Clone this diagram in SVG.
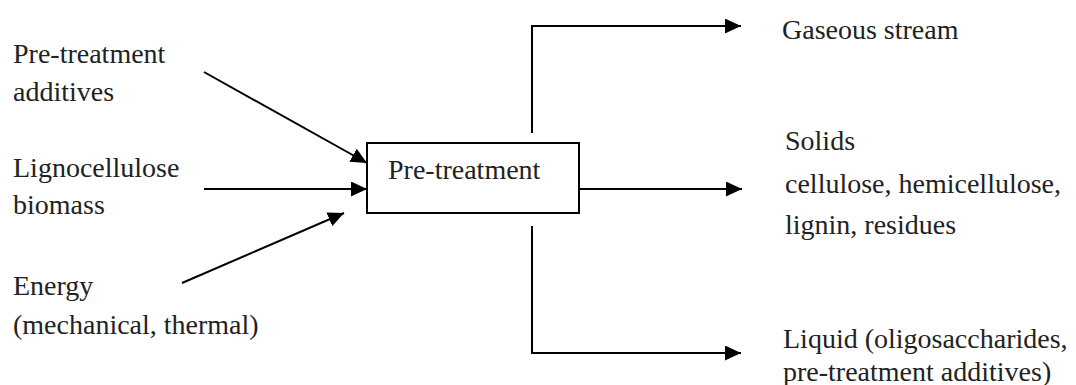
<svg xmlns="http://www.w3.org/2000/svg" width="1076" height="385" viewBox="0 0 1076 385" font-family="Liberation Serif, serif" font-size="28">
<style>
.t{font-family:'Liberation Serif',serif;font-size:28px;fill:#222}
.ln{stroke:#000;stroke-width:2;fill:none}
.box{stroke:#000;stroke-width:2;fill:#fff}
</style>
<defs>
<marker id="ah" markerUnits="userSpaceOnUse" markerWidth="17" markerHeight="15" refX="16" refY="7.5" orient="auto">
<path d="M0,0 L16,7.5 L0,15 z" fill="#000"/>
</marker>
</defs>
<g id="connectors">
<line class="ln" x1="204" y1="72" x2="367" y2="163" marker-end="url(#ah)"/>
<line class="ln" x1="204" y1="189" x2="367" y2="189" marker-end="url(#ah)"/>
<line class="ln" x1="182" y1="283" x2="344" y2="213" marker-end="url(#ah)"/>
<line class="ln" x1="579" y1="189" x2="742" y2="189" marker-end="url(#ah)"/>
<polyline class="ln" points="532,133 532,26 741,26" marker-end="url(#ah)"/>
<polyline class="ln" points="532,226 532,353 741,353" marker-end="url(#ah)"/>
</g>
<g id="pretreatment">
<rect class="box" x="367" y="143" width="212" height="70"/>
<text class="t" x="388" y="179">Pre-treatment</text>
</g>
<g id="additives">
<text class="t" x="13" y="63">Pre-treatment</text>
<text class="t" x="13" y="101">additives</text>
</g>
<g id="biomass">
<text class="t" x="13" y="177">Lignocellulose</text>
<text class="t" x="13" y="214">biomass</text>
</g>
<g id="energy">
<text class="t" x="13" y="295">Energy</text>
<text class="t" x="13" y="334">(mechanical, thermal)</text>
</g>
<g id="gaseous">
<text class="t" x="782" y="39">Gaseous stream</text>
</g>
<g id="solids">
<text class="t" x="785" y="150">Solids</text>
<text class="t" x="785" y="193">cellulose, hemicellulose,</text>
<text class="t" x="785" y="234">lignin, residues</text>
</g>
<g id="liquid">
<text class="t" x="783" y="348">Liquid (oligosaccharides,</text>
<text class="t" x="783" y="381">pre-treatment additives)</text>
</g>
</svg>
